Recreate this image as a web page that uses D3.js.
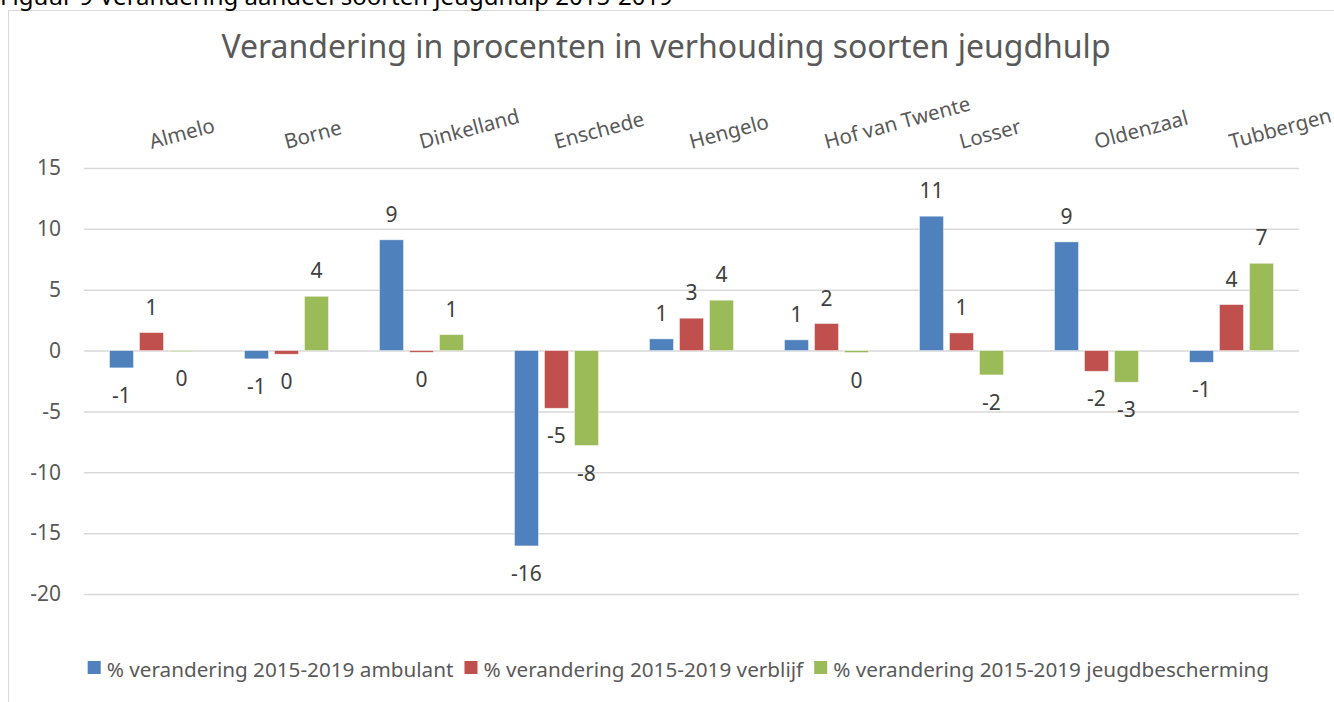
<!DOCTYPE html>
<html>
<head>
<meta charset="utf-8">
<script src="https://cdn.jsdelivr.net/npm/d3@7"></script>
<style>
  body { margin: 0; background: #fff; }
  svg { display: block; font-family: "Noto Sans", "Open Sans", sans-serif; }
</style>
</head>
<body>
<svg id="chart" width="1334" height="702"></svg>
<script>
// Gemeenten (categorieën)
const gemeenten = ['Almelo', 'Borne', 'Dinkelland', 'Enschede', 'Hengelo',
    'Hof van Twente', 'Losser', 'Oldenzaal', 'Tubbergen'];

const reeksen = [
    '% verandering 2015-2019 ambulant',
    '% verandering 2015-2019 verblijf',
    '% verandering 2015-2019 jeugdbescherming'
];

// waarden
const ambulant = [-1.42, -0.68, 9.1, -16.05, 0.96, 0.88, 11.04, 8.93, -0.96];
const verblijf = [1.48, -0.3, -0.14, -4.74, 2.66, 2.22, 1.45, -1.7, 3.78];
const jeugdbescherming = [-0.05, 4.46, 1.31, -7.8, 4.14, -0.16, -2.0, -2.6, 7.17];

const yTicks = [-20, -15, -10, -5, 0, 5, 10, 15];

const kleuren = ['#4F81BD', '#C0504D', '#9BBB59'];

const svg = d3.select('#chart');

// kader van de grafiek
svg.append('rect')
    .attr('x', 8.5).attr('y', 10.5)
    .attr('width', 1340).attr('height', 700)
    .attr('fill', 'none')
    .attr('stroke', '#d9d9d9');

// bijschrift (valt in het origineel deels buiten beeld)
svg.append('text')
    .attr('x', 0).attr('y', 5)
    .attr('font-size', 24)
    .attr('fill', '#000')
    .text('Figuur 9 Verandering aandeel soorten jeugdhulp 2015-2019');

svg.append('text')
    .attr('x', 666).attr('y', 58)
    .attr('text-anchor', 'middle')
    .attr('font-size', 32)
    .attr('fill', '#595959')
    .text('Verandering in procenten in verhouding soorten jeugdhulp');

// schalen
const x0 = d3.scaleBand().domain(gemeenten).range([84, 1299]);
const x1 = d3.scaleBand().domain(d3.range(reeksen.length))
    .range([0, x0.bandwidth()])
    .paddingInner(0.2).paddingOuter(0.85);
const y = d3.scaleLinear().domain([-20, 15]).range([594, 168]);

// rasterlijnen
svg.append('g')
    .attr('transform', 'translate(84,0)')
    .call(d3.axisLeft(y).tickValues(yTicks).tickSize(-(1299 - 84)).tickFormat(''))
    .call(g => g.select('.domain').remove())
    .call(g => g.selectAll('line').attr('stroke', '#d9d9d9').attr('stroke-width', 1.5));

// y-as labels
svg.append('g')
    .attr('transform', 'translate(61,0)')
    .call(d3.axisLeft(y).tickValues(yTicks).tickSize(0).tickPadding(0).tickFormat(d => String(d)))
    .call(g => g.select('.domain').remove())
    .call(g => g.selectAll('text')
        .attr('font-size', 21)
        .attr('font-family', '"Noto Sans", "Open Sans", sans-serif')
        .attr('fill', '#595959'));

// categorielabels boven de grafiek
svg.append('g').selectAll('text')
    .data(gemeenten)
    .join('text')
    .attr('transform', d => `translate(${x0(d) + x0.bandwidth() / 2},149) rotate(-15)`)
    .attr('font-size', 20.5)
    .attr('fill', '#595959')
    .text(d => d);

// staven
const data = [ambulant, verblijf, jeugdbescherming];
const cellen = [];
gemeenten.forEach((g, i) => {
    data.forEach((reeks, s) => cellen.push({ gemeente: g, s, v: reeks[i] }));
});

const barG = svg.append('g');
barG.selectAll('rect')
    .data(cellen)
    .join('rect')
    .attr('x', d => x0(d.gemeente) + x1(d.s))
    .attr('width', x1.bandwidth())
    .attr('y', d => y(Math.max(0, d.v)))
    .attr('height', d => Math.max(1, Math.abs(y(d.v) - y(0))))
    .attr('fill', d => kleuren[d.s])
    .attr('stroke', '#fff')
    .attr('stroke-opacity', 0.55)
    .attr('stroke-width', 0.8);

// datalabels
barG.selectAll('text')
    .data(cellen)
    .join('text')
    .attr('x', d => x0(d.gemeente) + x1(d.s) + x1.bandwidth() / 2)
    .attr('y', d => d.v < 0 ? y(d.v) + 35 : y(d.v) - 18)
    .attr('text-anchor', 'middle')
    .attr('font-size', 21)
    .attr('fill', '#404040')
    .text(d => String(Math.round(d.v) || 0));

// legenda
const legG = svg.append('g');
const items = legG.selectAll('g')
    .data(reeksen)
    .join('g');
items.append('rect')
    .attr('width', 13).attr('height', 13)
    .attr('y', 661)
    .attr('fill', (d, i) => kleuren[i]);
items.append('text')
    .attr('x', 19).attr('y', 677)
    .attr('font-size', 20.7)
    .attr('fill', '#595959')
    .text(d => d);

const breedtes = [];
items.each(function () {
    const w = d3.select(this).select('text').node().getComputedTextLength();
    breedtes.push(19 + w);
});
const totaal = d3.sum(breedtes) + 11 * (breedtes.length - 1);
let start = 1269 - totaal;
items.attr('transform', (d, i) => {
    const t = `translate(${start},0)`;
    start += breedtes[i] + 11;
    return t;
});
</script>
</body>
</html>
